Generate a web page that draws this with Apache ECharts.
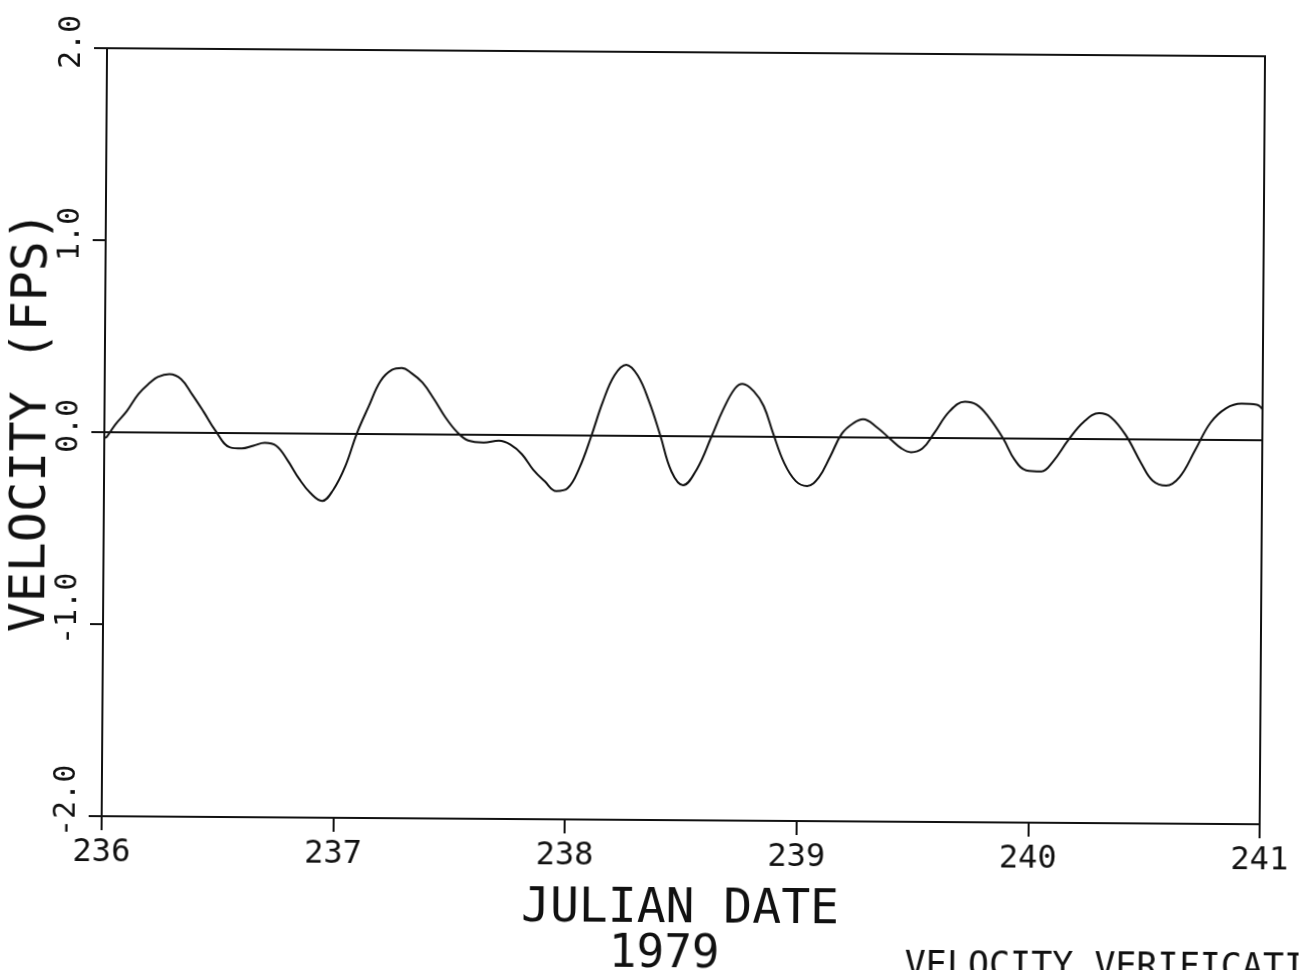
<!DOCTYPE html>
<html>
<head>
<meta charset="utf-8">
<script src="https://cdn.jsdelivr.net/npm/echarts@6/dist/echarts.min.js"></script>
<style>
  html, body { margin: 0; padding: 0; background: #fff; overflow: hidden; }
  #chart { width: 1302px; height: 970px; transform: rotate(0.4deg); transform-origin: 651px 485px; }
</style>
</head>
<body>
<div id="chart"></div>
<script>
// Julian day (1979) sample positions
const days = [
  236.000, 236.010, 236.047, 236.096, 236.146, 236.196, 236.229, 236.279, 236.329, 236.378,
  236.428, 236.478, 236.544, 236.594, 236.644, 236.693, 236.743, 236.792, 236.842, 236.892,
  236.942, 236.991, 237.041, 237.091, 237.141, 237.190, 237.240, 237.282, 237.323, 237.372,
  237.422, 237.472, 237.522, 237.571, 237.638, 237.704, 237.754, 237.804, 237.853, 237.903,
  237.953, 238.002, 238.052, 238.102, 238.151, 238.201, 238.251, 238.301, 238.351, 238.400,
  238.450, 238.500, 238.560, 238.622, 238.671, 238.721, 238.754, 238.804, 238.846, 238.887,
  238.936, 238.987, 239.036, 239.086, 239.135, 239.185, 239.235, 239.276, 239.334, 239.392,
  239.442, 239.484, 239.533, 239.583, 239.649, 239.715, 239.765, 239.815, 239.881, 239.931,
  239.981, 240.047, 240.096, 240.163, 240.229, 240.295, 240.345, 240.411, 240.478, 240.528,
  240.586, 240.644, 240.710, 240.776, 240.842, 240.909, 240.975, 241.000
];
// Velocity (FPS)
const velocity = [
  -0.030, -0.025, 0.040, 0.110, 0.200, 0.260, 0.290, 0.305, 0.280, 0.200,
  0.110, 0.015, -0.075, -0.080, -0.065, -0.050, -0.065, -0.140, -0.235, -0.310,
  -0.350, -0.290, -0.170, 0.005, 0.145, 0.275, 0.335, 0.345, 0.320, 0.270,
  0.185, 0.090, 0.015, -0.030, -0.040, -0.030, -0.050, -0.100, -0.180, -0.240,
  -0.290, -0.275, -0.170, -0.005, 0.175, 0.315, 0.370, 0.315, 0.180, 0.005,
  -0.185, -0.255, -0.170, 0.000, 0.140, 0.250, 0.275, 0.235, 0.160, 0.020,
  -0.135, -0.230, -0.255, -0.210, -0.100, 0.020, 0.075, 0.095, 0.055, -0.005,
  -0.055, -0.075, -0.055, 0.025, 0.140, 0.190, 0.175, 0.115, 0.000, -0.110,
  -0.165, -0.170, -0.120, -0.005, 0.090, 0.135, 0.115, 0.020, -0.125, -0.215,
  -0.240, -0.195, -0.055, 0.090, 0.165, 0.190, 0.185, 0.160
];
const xTickValues = [236, 237, 238, 239, 240, 241];
const yTickValues = [-2.0, -1.0, 0.0, 1.0, 2.0];
const xAxisTitle = 'JULIAN DATE';
const yearLabel = '1979';
const yAxisTitle = 'VELOCITY (FPS)';
const footerText = 'VELOCITY VERIFICATI';

const FONT = 'DejaVu Sans Mono';
const INK = '#111';

const chart = echarts.init(document.getElementById('chart'), null, { renderer: 'canvas', width: 1302, height: 970 });

const option = {
  animation: false,
  backgroundColor: '#fff',
  grid: {
    left: 104, right: 40, top: 52, bottom: 150,
    show: true, borderColor: INK, borderWidth: 2, backgroundColor: 'transparent',
    containLabel: false, outerBoundsMode: 'none'
  },
  xAxis: {
    type: 'value',
    min: xTickValues[0], max: xTickValues[xTickValues.length - 1], interval: 1,
    axisLine: { show: true, onZero: false, lineStyle: { color: INK, width: 2 } },
    axisTick: { show: true, inside: false, length: 14, lineStyle: { color: INK, width: 2 } },
    splitLine: { show: false },
    axisLabel: {
      show: true, margin: 21, color: INK, fontFamily: FONT, fontSize: 32,
      formatter: v => String(v)
    },
    name: xAxisTitle, nameLocation: 'middle', nameGap: 66, nameMoveOverlap: false,
    nameTextStyle: { color: INK, fontFamily: FONT, fontSize: 48 }
  },
  yAxis: {
    type: 'value',
    min: yTickValues[0], max: yTickValues[yTickValues.length - 1], interval: 1,
    axisLine: { show: true, onZero: false, lineStyle: { color: INK, width: 2 } },
    axisTick: { show: true, inside: false, length: 13, lineStyle: { color: INK, width: 2 } },
    splitLine: { show: false },
    axisLabel: {
      show: true, rotate: 90, margin: 20, color: INK, fontFamily: FONT, fontSize: 30,
      align: 'left', padding: [0, 0, 0, -21],
      formatter: v => v.toFixed(1)
    },
    name: yAxisTitle, nameLocation: 'middle', nameGap: 47, nameRotate: 90, nameMoveOverlap: false,
    nameTextStyle: { color: INK, fontFamily: FONT, fontSize: 50, padding: [0, 0, 0, 20] }
  },
  graphic: [
    {
      type: 'text', left: 612, top: 932,
      style: { text: yearLabel, font: '46px "DejaVu Sans Mono"', fill: INK }
    },
    {
      type: 'text', left: 908, top: 947,
      style: { text: footerText, font: '35px "DejaVu Sans Mono"', fill: INK }
    }
  ],
  series: [
    {
      type: 'line',
      data: days.map((d, i) => [d, velocity[i]]),
      smooth: 0.4,
      symbol: 'none',
      clip: true,
      lineStyle: { color: INK, width: 2 },
      markLine: {
        silent: true, symbol: ['none', 'none'], label: { show: false },
        lineStyle: { color: INK, width: 2, type: 'solid' },
        data: [{ yAxis: 0 }]
      }
    }
  ]
};
chart.setOption(option);
</script>
</body>
</html>
